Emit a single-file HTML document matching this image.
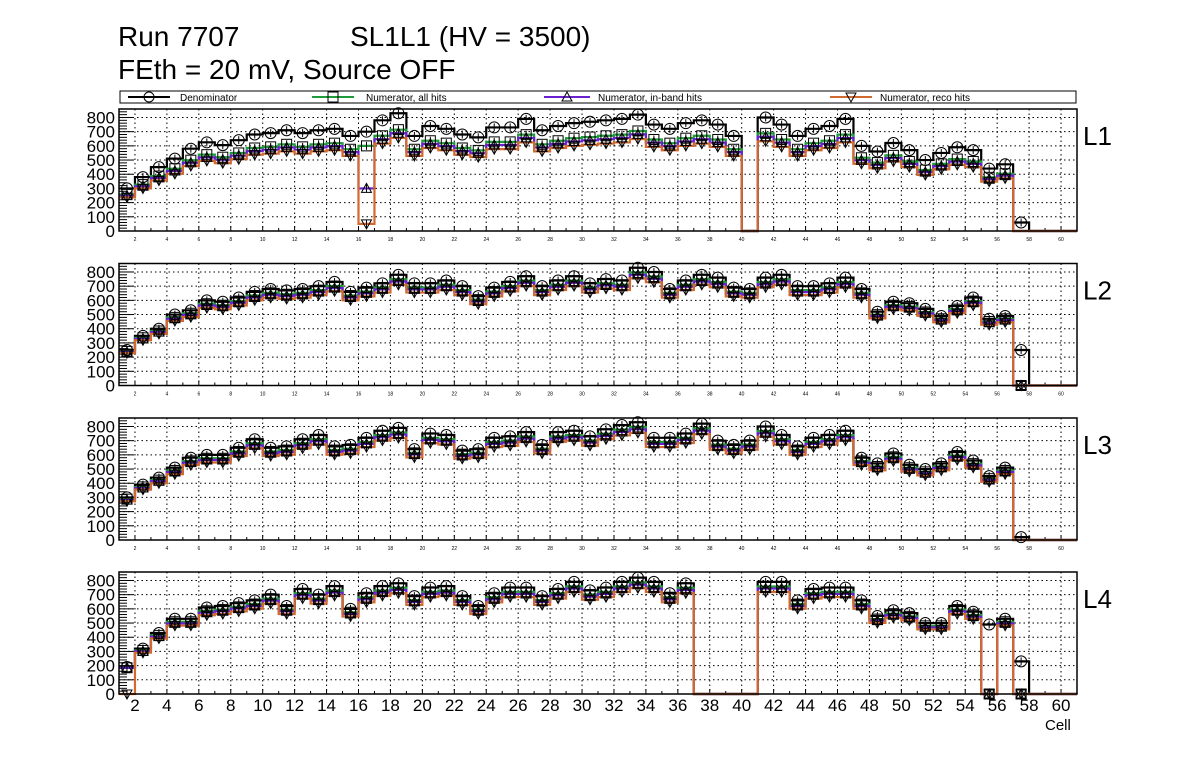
<!DOCTYPE html>
<html><head><meta charset="utf-8">
<style>
html,body{margin:0;padding:0;background:#fff;}
svg{display:block;font-family:"Liberation Sans",Arial,sans-serif;}
</style></head>
<body>
<svg id="s" width="1196" height="772" viewBox="0 0 1196 772" xmlns="http://www.w3.org/2000/svg">
<rect width="1196" height="772" fill="#fff"/>
<text x="118" y="46" font-size="28">Run 7707</text>
<text x="350" y="46" font-size="28">SL1L1 (HV = 3500)</text>
<text x="118" y="79" font-size="28">FEth = 20 mV, Source OFF</text>
<rect x="120" y="91" width="956" height="12" fill="#fff" stroke="#000" stroke-width="1"/>
<line x1="128" y1="97" x2="170" y2="97" stroke="#000" stroke-width="2"/><circle cx="149" cy="97" r="5" fill="none" stroke="#000"/>
<text x="180" y="101" font-size="10">Denominator</text>
<line x1="312" y1="97" x2="354" y2="97" stroke="#1f9b3a" stroke-width="2"/><rect x="328" y="92" width="10" height="10" fill="none" stroke="#000"/>
<text x="366" y="101" font-size="10">Numerator, all hits</text>
<line x1="544" y1="97" x2="590" y2="97" stroke="#6b1fd1" stroke-width="2"/><path d="M567 92 L572 101 L562 101 Z" fill="none" stroke="#000"/>
<text x="598" y="101" font-size="10">Numerator, in-band hits</text>
<line x1="830" y1="97" x2="872" y2="97" stroke="#d2692e" stroke-width="2"/><path d="M851 102 L856 93 L846 93 Z" fill="none" stroke="#000"/>
<text x="880" y="101" font-size="10">Numerator, reco hits</text>
<text x="1045" y="730" font-size="15">Cell</text>
<g id="g"></g>
</svg>
<script>
const D=[
[300,380,450,510,580,625,605,640,680,690,710,690,710,720,670,700,780,830,670,740,720,680,660,730,730,790,710,740,760,770,780,790,820,750,720,760,780,750,670,0,800,750,670,720,740,790,600,560,620,570,500,550,590,570,440,470,60,0,0,0],
[250,350,400,500,530,600,590,620,660,680,670,680,700,730,660,690,720,780,720,720,740,700,630,690,730,770,700,740,770,720,750,740,830,800,680,740,780,760,690,680,760,780,700,700,720,760,680,520,590,580,540,490,560,620,470,490,250,0,0,0],
[300,390,440,510,580,600,600,650,710,650,660,710,740,660,670,720,770,790,640,750,740,630,640,720,730,760,670,760,770,730,780,810,830,720,720,750,820,700,670,700,800,740,660,720,740,770,580,540,610,530,500,540,620,560,450,510,20,0,0,0],
[190,320,430,530,530,610,620,640,660,700,620,740,700,760,600,710,760,780,690,750,760,690,620,710,750,750,690,740,790,730,750,790,820,790,710,780,0,0,0,0,790,790,660,740,750,750,660,550,590,570,500,500,620,580,490,530,230,0,0,0]];
const F=[[0.86,0.83,0.79],[0.96,0.94,0.91],[0.96,0.94,0.91],[0.96,0.94,0.91]];
const tops=[109,263.5,418,572],H=122,L=119,R=1077,K=0.1419,bw=(R-L)/60;
const X=c=>L+(c-1)*bw;
let o='';
const cols=['#000','#1f9b3a','#6b1fd1','#d2692e'];
for(let p=0;p<4;p++){
 const t=tops[p],b=t+H,Y=v=>b-v*K;
 const d=D[p];
 const S=[d,d.map(v=>Math.round(v*F[p][0])),d.map(v=>Math.round(v*F[p][1])),d.map(v=>Math.round(v*F[p][2]))];
 if(p==0){S[1][15]=600;S[2][15]=300;S[3][15]=50;S[1][56]=0;S[2][56]=0;S[3][56]=0;}
 if(p==1){S[1][56]=0;S[2][56]=0;S[3][56]=0;}
 if(p==2){S[1][56]=0;S[2][56]=0;S[3][56]=0;}
 if(p==3){S[3][0]=0;S[2][0]=185;S[1][0]=185;for(let k=1;k<4;k++){S[k][54]=0;S[k][56]=0;}}
 for(let v=100;v<=800;v+=100)o+=`<line x1="${L}" x2="${R}" y1="${Y(v)}" y2="${Y(v)}" stroke="#000" stroke-width="1" stroke-dasharray="1.5,3"/>`;
 for(let c=2;c<=60;c+=2)o+=`<line x1="${X(c)}" x2="${X(c)}" y1="${t}" y2="${b}" stroke="#000" stroke-width="1" stroke-dasharray="1.5,3"/>`;
 for(let v=0;v<=860;v+=20){const maj=v%100==0;o+=`<line x1="${L}" x2="${L+(maj?14:8)}" y1="${Y(v)}" y2="${Y(v)}" stroke="#000" stroke-width="1"/>`;}
 for(let v=0;v<=800;v+=100)o+=`<text x="${L-4}" y="${Y(v)+6}" font-size="17" text-anchor="end">${v}</text>`;
 for(let c=2;c<=61;c++)o+=`<line x1="${X(c)}" x2="${X(c)}" y1="${b}" y2="${b-(c%2==0?5:3)}" stroke="#000"/>`;
 for(let c=2;c<=60;c+=2){ if(p<3)o+=`<text x="${X(c)}" y="${b+10}" font-size="5" text-anchor="middle">${c}</text>`; else o+=`<text x="${X(c)}" y="${b+17}" font-size="17" text-anchor="middle">${c}</text>`;}
 o+=`<text x="1083" y="${t+36}" font-size="26">L${p+1}</text>`;
 for(let k=0;k<4;k++){
  const s=S[k];let dd=`M${L} ${Y(s[0])}`;
  for(let i=0;i<60;i++){dd+=` L${X(i+2)} ${Y(s[i])}`;if(i<59)dd+=` L${X(i+2)} ${Y(s[i+1])}`;}
  dd+=` L${R} ${b}`;
  o+=`<path d="${dd}" fill="none" stroke="${cols[k]}" stroke-width="2.2"/>`;
 }
 for(let i=0;i<60;i++){
  if(d[i]<=0)continue;
  const cx=X(i+1.5);
  for(let k=0;k<4;k++){
   if(k>0 && S[k][i]==0 && (p==0||p==2))continue;
   const y=Y(S[k][i]);
   o+=`<line x1="${cx}" x2="${cx}" y1="${y-4}" y2="${y+4}" stroke="#000"/>`;
   if(k==0)o+=`<circle cx="${cx}" cy="${y}" r="5.5" fill="none" stroke="#000"/>`;
   if(k==1)o+=`<rect x="${cx-5}" y="${y-5}" width="10" height="10" fill="none" stroke="#000"/>`;
   if(k==2)o+=`<path d="M${cx} ${y-5} L${cx+5} ${y+4} L${cx-5} ${y+4}Z" fill="none" stroke="#000"/>`;
   if(k==3)o+=`<path d="M${cx} ${y+5} L${cx+5} ${y-4} L${cx-5} ${y-4}Z" fill="none" stroke="#000"/>`;
  }
 }
 o+=`<rect x="${L}" y="${t}" width="${R-L}" height="${H}" fill="none" stroke="#000" stroke-width="1.5"/>`;
}
document.getElementById('g').innerHTML=o;
</script>
</body></html>
